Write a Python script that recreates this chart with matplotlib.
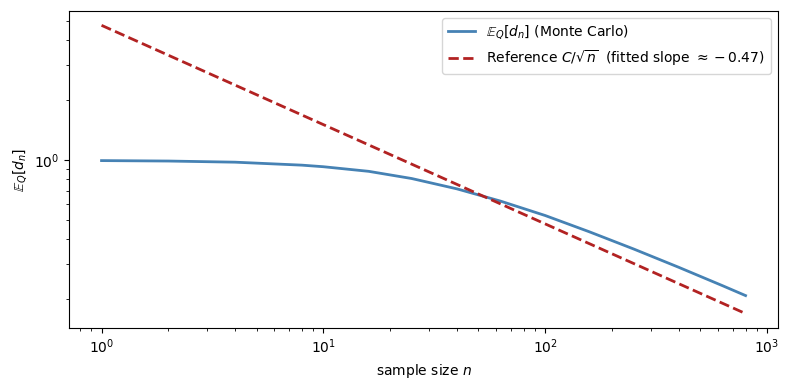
import matplotlib
matplotlib.use('Agg')
import matplotlib.pyplot as plt

# values
n_mc = [1, 2, 4, 8, 10, 16, 25, 40, 63, 100, 158, 251, 398, 631, 800]
e_mc = [0.991, 0.986, 0.973, 0.940, 0.923, 0.875, 0.805, 0.714, 0.619,
        0.524, 0.434, 0.355, 0.288, 0.232, 0.207]

n_ref = [1, 800]
e_ref = [4.76, 0.168]

fig, ax = plt.subplots(figsize=(7.88, 3.9), dpi=100)
ax.plot(n_mc, e_mc, color='steelblue', linewidth=2, label=r'$\mathbb{E}_Q[d_n]$ (Monte Carlo)')
ax.plot(n_ref, e_ref, '--', color='firebrick', linewidth=2,
        label=r'Reference $C/\sqrt{n}$  (fitted slope $\approx -0.47$)')
ax.set_xscale('log')
ax.set_yscale('log')
ax.set_xlabel('sample size $n$')
ax.set_ylabel(r'$\mathbb{E}_Q[d_n]$')
ax.legend(loc='upper right')

fig.subplots_adjust(left=0.088, right=0.987, top=0.972, bottom=0.159)
fig.savefig('out.png')
